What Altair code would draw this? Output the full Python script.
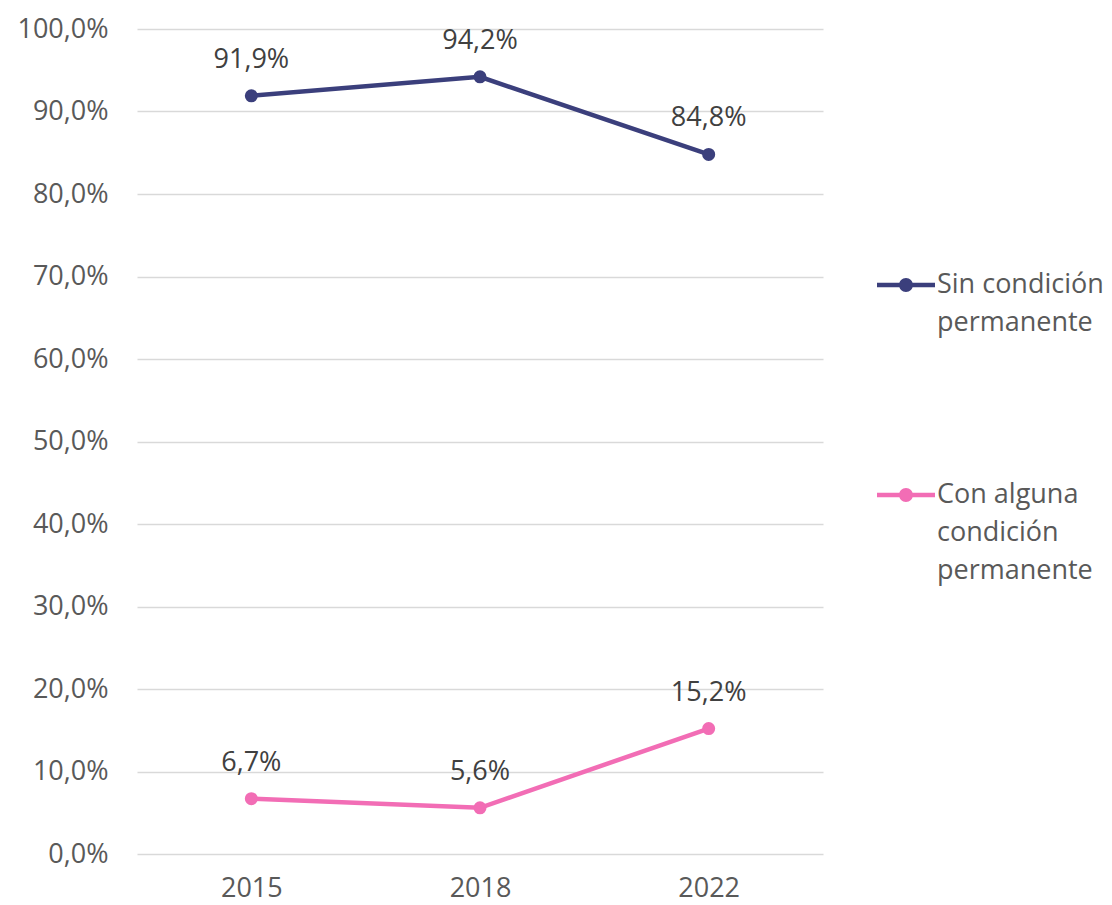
import altair as alt
import pandas as pd

years = ["2015", "2018", "2022"]
series_names = ["Sin condición permanente", "Con alguna condición permanente"]
sin_values = [0.919, 0.942, 0.848]
con_values = [0.067, 0.056, 0.152]
colors = ["#3B3F7C", "#F26DB5"]
y_ticks = [0, 0.1, 0.2, 0.3, 0.4, 0.5, 0.6, 0.7, 0.8, 0.9, 1.0]

rows = []
for name, vals in zip(series_names, [sin_values, con_values]):
    for yr, v in zip(years, vals):
        rows.append({"year": yr, "series": name, "value": v,
                     "label": f"{v*100:.1f}%".replace(".", ",")})
df = pd.DataFrame(rows)

FONT = "Open Sans"
FS = 27
sym = ("M-1,-0.075 L1,-0.075 L1,0.075 L-1,0.075 Z "
       "M-0.24,0 A0.24,0.24 0 1,1 0.24,0 A0.24,0.24 0 1,1 -0.24,0 Z")

label_expr = ("datum.label == 'Sin condición permanente' ? ['Sin condición', 'permanente'] : "
              "['Con alguna', 'condición', 'permanente']")

base = alt.Chart(df).encode(
    x=alt.X("year:O", title=None,
            axis=alt.Axis(labelAngle=0, domain=False, ticks=False, grid=False,
                          labelPadding=21, labelFontSize=FS, labelColor="#595959",
                          labelFont=FONT)),
    y=alt.Y("value:Q", title=None, scale=alt.Scale(domain=[0, 1], nice=False),
            axis=alt.Axis(values=y_ticks, domain=False, ticks=False, grid=True,
                          gridColor="#D9D9D9", gridWidth=1.5,
                          labelExpr="replace(format(datum.value, '.1%'), '.', ',')",
                          labelPadding=29, labelFontSize=FS, labelColor="#595959",
                          labelFont=FONT)),
    color=alt.Color("series:N",
                    scale=alt.Scale(domain=series_names, range=colors),
                    legend=alt.Legend(title=None, orient="none", legendX=740, legendY=227,
                                      symbolType=sym, symbolSize=3364,
                                      symbolStrokeWidth=0, labelFontSize=FS,
                                      labelFont=FONT, labelColor="#595959",
                                      labelLimit=300, labelOffset=2,
                                      labelExpr=label_expr, rowPadding=130,
                                      labelBaseline="middle")),
)

line = base.mark_line(strokeWidth=4.5)
pts = base.mark_circle(size=170, opacity=1)
txt = base.mark_text(dy=-36, fontSize=FS, font=FONT).encode(
    text="label:N", color=alt.value("#404040"))

chart = alt.layer(line, pts, txt).properties(
    width=686, height=825,
    autosize=alt.AutoSizeParams(type="none"),
    padding={"left": 129, "top": 21, "right": 281, "bottom": 50},
).configure(
    style={"guide-label": {"lineHeight": 38}},
    view=alt.ViewConfig(stroke=None),
)

chart.save("out.html", embed_options={"renderer": "svg", "actions": False})
